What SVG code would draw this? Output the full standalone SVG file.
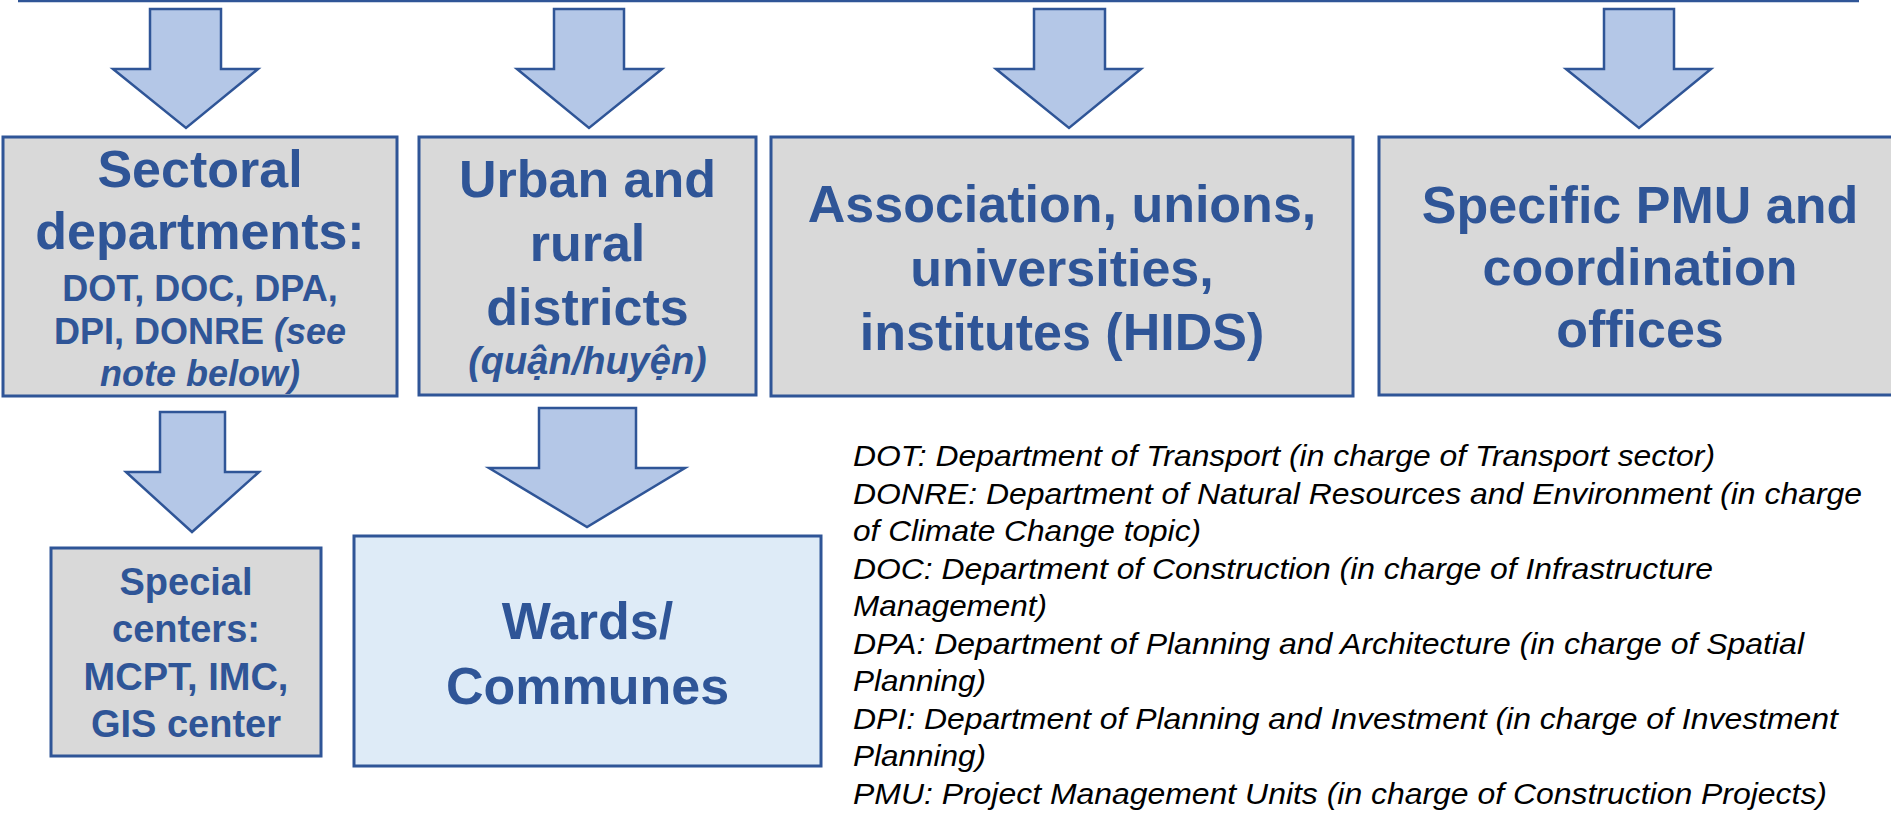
<svg xmlns="http://www.w3.org/2000/svg" width="1891" height="816" viewBox="0 0 1891 816">
<style>
.box{fill:#D9D9D9;stroke:#2F5597;stroke-width:3}
.box2{fill:#DEEBF7;stroke:#2F5597;stroke-width:3}
.arr{fill:#B4C7E7;stroke:#2F5597;stroke-width:2.5;stroke-linejoin:miter}
.t{font-family:"Liberation Sans",Arial,sans-serif;font-weight:bold;fill:#2F5597;text-anchor:middle}
.big{font-size:52px}
.mid{font-size:36px}
.sc{font-size:38px}
.note{font-family:"Liberation Sans",Arial,sans-serif;font-style:italic;font-size:30px;fill:#000}
</style>
<rect width="1891" height="816" fill="#fff"/>
<g id="connectors">
<line x1="18" y1="1" x2="1859" y2="1" stroke="#2F5597" stroke-width="2.5"/>
<path class="arr" d="M150,9 H221 V69 H258 L186,128 L113,69 H150 Z"/>
<path class="arr" d="M554,9 H624 V69 H662 L589,128 L517,69 H554 Z"/>
<path class="arr" d="M1034,9 H1105 V69 H1141 L1069,128 L996,69 H1034 Z"/>
<path class="arr" d="M1604,9 H1674 V69 H1711 L1639,128 L1566,69 H1604 Z"/>
<path class="arr" d="M160,412 H225 V472 H259 L192,532 L126,472 H160 Z"/>
<path class="arr" d="M539,408 H636 V468 H685 L587,527 L489,468 H539 Z"/>
</g>
<g id="sectoral">
<rect class="box" x="3" y="137" width="394" height="259"/>
<text class="t big" x="200" y="187">Sectoral</text>
<text class="t big" x="200" y="249">departments:</text>
<text class="t mid" x="200" y="301">DOT, DOC, DPA,</text>
<text class="t mid" x="200" y="344">DPI, DONRE <tspan font-style="italic">(see</tspan></text>
<text class="t mid" x="200" y="386" font-style="italic">note below)</text>
</g>
<g id="districts">
<rect class="box" x="419" y="137" width="337" height="258"/>
<text class="t big" x="587.5" y="197">Urban and</text>
<text class="t big" x="587.5" y="261">rural</text>
<text class="t big" x="587.5" y="325">districts</text>
<text class="t" x="587.5" y="374" font-size="38" font-style="italic">(quận/huyện)</text>
</g>
<g id="associations">
<rect class="box" x="771" y="137" width="582" height="259"/>
<text class="t big" x="1062" y="222">Association, unions,</text>
<text class="t big" x="1062" y="286">universities,</text>
<text class="t big" x="1062" y="350">institutes (HIDS)</text>
</g>
<g id="pmu">
<rect class="box" x="1379" y="137" width="522" height="258"/>
<text class="t big" x="1640" y="223">Specific PMU and</text>
<text class="t big" x="1640" y="285">coordination</text>
<text class="t big" x="1640" y="347">offices</text>
</g>
<g id="special-centers">
<rect class="box" x="51" y="548" width="270" height="208" stroke-width="2.5"/>
<text class="t sc" x="186" y="595">Special</text>
<text class="t sc" x="186" y="642">centers:</text>
<text class="t sc" x="186" y="690">MCPT, IMC,</text>
<text class="t sc" x="186" y="737">GIS center</text>
</g>
<g id="wards">
<rect class="box2" x="354" y="536" width="467" height="230"/>
<text class="t big" x="587.5" y="639">Wards/</text>
<text class="t big" x="587.5" y="704">Communes</text>
</g>
<g id="notes">
<text class="note" x="853" y="466" textLength="862" lengthAdjust="spacingAndGlyphs">DOT: Department of Transport (in charge of Transport sector)</text>
<text class="note" x="853" y="503.5" textLength="1009" lengthAdjust="spacingAndGlyphs">DONRE: Department of Natural Resources and Environment (in charge</text>
<text class="note" x="853" y="541" textLength="348" lengthAdjust="spacingAndGlyphs">of Climate Change topic)</text>
<text class="note" x="853" y="578.5" textLength="860" lengthAdjust="spacingAndGlyphs">DOC: Department of Construction (in charge of Infrastructure</text>
<text class="note" x="853" y="616" textLength="194" lengthAdjust="spacingAndGlyphs">Management)</text>
<text class="note" x="853" y="653.5" textLength="951" lengthAdjust="spacingAndGlyphs">DPA: Department of Planning and Architecture (in charge of Spatial</text>
<text class="note" x="853" y="691" textLength="133" lengthAdjust="spacingAndGlyphs">Planning)</text>
<text class="note" x="853" y="728.5" textLength="985" lengthAdjust="spacingAndGlyphs">DPI: Department of Planning and Investment (in charge of Investment</text>
<text class="note" x="853" y="766" textLength="133" lengthAdjust="spacingAndGlyphs">Planning)</text>
<text class="note" x="853" y="803.5" textLength="974" lengthAdjust="spacingAndGlyphs">PMU: Project Management Units (in charge of Construction Projects)</text>
</g>
</svg>
